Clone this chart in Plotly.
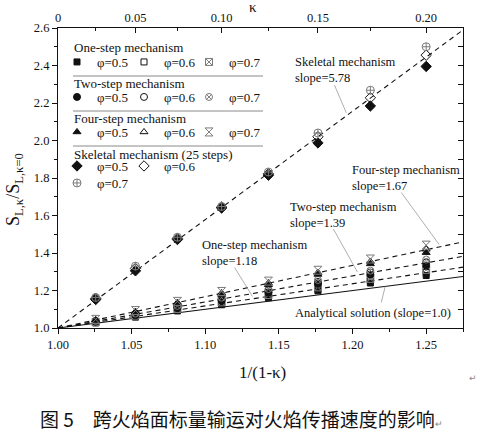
import plotly.graph_objects as go

# ---------------- data ----------------
x_pts = [1.0256, 1.0526, 1.0811, 1.1111, 1.1429, 1.1765, 1.2121, 1.25]

one_05 = [1.027, 1.058, 1.091, 1.124, 1.161, 1.198, 1.240, 1.280]
one_06 = [1.030, 1.062, 1.096, 1.130, 1.168, 1.207, 1.251, 1.296]
one_07 = [1.032, 1.066, 1.101, 1.137, 1.176, 1.217, 1.262, 1.310]
two_05 = [1.034, 1.069, 1.107, 1.147, 1.190, 1.236, 1.285, 1.333]
two_06 = [1.036, 1.073, 1.113, 1.155, 1.200, 1.246, 1.296, 1.350]
two_07 = [1.038, 1.077, 1.118, 1.162, 1.208, 1.256, 1.306, 1.365]
four_05 = [1.041, 1.084, 1.130, 1.179, 1.231, 1.286, 1.342, 1.402]
four_06 = [1.043, 1.088, 1.136, 1.187, 1.240, 1.296, 1.355, 1.420]
four_07 = [1.046, 1.093, 1.142, 1.195, 1.250, 1.308, 1.368, 1.442]
skel_05 = [1.152, 1.305, 1.472, 1.640, 1.815, 1.987, 2.184, 2.395]
skel_06 = [1.158, 1.318, 1.478, 1.645, 1.822, 2.020, 2.228, 2.455]
skel_07 = [1.163, 1.330, 1.484, 1.648, 1.832, 2.040, 2.268, 2.500]

# fitted lines (end points)
line_x = [1.0, 1.275]
line_analytic = [1.0, 1.275]
line_one = [1.0, 1.3245]
line_two = [1.0, 1.3823]
line_four = [1.0, 1.4593]
line_skel = [1.0, 2.5895]

kappa_ticks = [1.0, 1.0526, 1.1111, 1.1765, 1.25]
kappa_labels = ["0", "0.05", "0.10", "0.15", "0.20"]
kappa_minor = [1.0256, 1.0811, 1.1429, 1.2121]

phi_labels = ["φ=0.5", "φ=0.6", "φ=0.7"]
group_titles = ["One-step mechanism", "Two-step mechanism", "Four-step mechanism",
                "Skeletal mechanism (25 steps)"]

SERIF = "Liberation Serif"
GRAY = "#7a7a7a"
BLK = "#111111"

def py(p):   # pixel row -> paper y (plot area 28..328)
    return (328 - p) / 300

def px(p):   # pixel col -> paper x (plot area 58..463)
    return (p - 58) / 405

fig = go.Figure()

# lines
for ys, dash in [(line_analytic, "solid"), (line_one, "5px,4px"), (line_two, "5px,4px"),
                 (line_four, "5px,4px"), (line_skel, "5px,4px")]:
    fig.add_trace(go.Scatter(x=line_x, y=ys, mode="lines", showlegend=False,
                             line=dict(color=BLK, width=1.1, dash=dash), hoverinfo="skip"))

groups = [
    ([one_05, one_06, one_07],
     [("square", BLK, 6), ("square-open", BLK, 6), ("square-x-open", GRAY, 7)]),
    ([two_05, two_06, two_07],
     [("circle", BLK, 7), ("circle-open", BLK, 7), ("circle-x-open", GRAY, 7)]),
    ([four_05, four_06, four_07],
     [("triangle-up", BLK, 7), ("triangle-up-open", BLK, 7), ("hourglass-open", GRAY, 8)]),
    ([skel_05, skel_06, skel_07],
     [("diamond", BLK, 8), ("diamond-open", BLK, 8), ("circle-cross-open", GRAY, 8)]),
]

# legend entry anchor (marker centre in pixels) for each group / phi
row_tops = [47, 82, 117, 151]
col_marks = [78, 145, 210]

leg_common = dict(orientation="v", xanchor="left", yanchor="top", bgcolor="rgba(0,0,0,0)",
                  font=dict(family=SERIF, size=13, color=BLK), itemsizing="trace",
                  borderwidth=0)
legend_layout = {}
k = 0
for g, (series, styles) in enumerate(groups):
    for i, (ys, (sym, col, sz)) in enumerate(zip(series, styles)):
        k += 1
        lname = "legend" if k == 1 else f"legend{k}"
        if g == 3 and i == 2:
            mx, top = col_marks[0], 168
        else:
            mx, top = col_marks[i], row_tops[g]
        legend_layout[lname] = dict(**leg_common, x=px(mx - 21), y=py(top))
        fig.add_trace(go.Scatter(
            x=x_pts, y=ys, mode="markers", name=phi_labels[i], legend=lname,
            marker=dict(symbol=sym, color=col, size=sz, line=dict(color=col, width=1)),
        ))

# axes
fig.update_layout(
    width=480, height=433,
    margin=dict(l=58, r=17, t=28, b=105),
    paper_bgcolor="white", plot_bgcolor="white",
    font=dict(family=SERIF, size=12.5, color=BLK),
    xaxis=dict(range=[1.0, 1.275], showline=True, linecolor=BLK, linewidth=1.2,
               ticks="outside", ticklen=5, tickcolor=BLK, dtick=0.05, tick0=1.0,
               tickformat=".2f", showgrid=False, zeroline=False,
               minor=dict(ticks="outside", ticklen=3, dtick=0.025, tickcolor=BLK),
               tickfont=dict(size=12.5)),
    xaxis2=dict(range=[1.0, 1.275], overlaying="x", side="top", showline=True,
                linecolor=BLK, linewidth=1.2, ticks="inside", ticklen=5, tickcolor=BLK,
                tickmode="array", tickvals=kappa_ticks, ticktext=kappa_labels,
                minor=dict(ticks="inside", ticklen=3, tickvals=kappa_minor, tickcolor=BLK),
                showgrid=False, zeroline=False, tickfont=dict(size=12.5)),
    yaxis=dict(range=[1.0, 2.6], showline=True, linecolor=BLK, linewidth=1.2,
               ticks="outside", ticklen=5, tickcolor=BLK, dtick=0.2, tick0=1.0,
               tickformat=".1f", showgrid=False, zeroline=False,
               minor=dict(ticks="outside", ticklen=3, dtick=0.1, tickcolor=BLK),
               tickfont=dict(size=12.5)),
    yaxis2=dict(range=[1.0, 2.6], overlaying="y", side="right", showline=True,
                linecolor=BLK, linewidth=1.2, ticks="inside", ticklen=5, tickcolor=BLK,
                dtick=0.2, tick0=1.0, showticklabels=False, showgrid=False, zeroline=False,
                minor=dict(ticks="inside", ticklen=5, dtick=0.1, tickcolor=BLK)),
    **legend_layout,
)
# invisible trace so the overlay axes render
fig.add_trace(go.Scatter(x=[1.0], y=[1.0], xaxis="x2", yaxis="y2", mode="markers",
                         marker=dict(size=1, color="rgba(0,0,0,0)"), showlegend=False,
                         hoverinfo="skip"))

# group titles of the legend
for t, row in zip(group_titles, [47.5, 83, 118, 154]):
    fig.add_annotation(text=t, xref="paper", yref="paper", x=px(72), y=py(row),
                       xanchor="left", yanchor="middle", showarrow=False,
                       font=dict(family=SERIF, size=13, color=BLK))

# separator lines in legend
for row in [76, 111, 146]:
    fig.add_shape(type="line", xref="paper", yref="paper", x0=px(73), x1=px(263),
                  y0=py(row), y1=py(row), line=dict(color="#8a8a8a", width=1))

# annotations
ann_font = dict(family=SERIF, size=12.5, color=BLK)
notes = [
    ("Skeletal mechanism<br>slope=5.78", 293, 53),
    ("Four-step mechanism<br>slope=1.67", 350, 161),
    ("Two-step mechanism<br>slope=1.39", 288, 198),
    ("One-step mechanism<br>slope=1.18", 200, 236),
]
for txt, cx, cy in notes:
    fig.add_annotation(text=txt, xref="paper", yref="paper", x=px(cx), y=py(cy),
                       xanchor="left", yanchor="top", align="left", showarrow=False,
                       font=ann_font)
fig.add_annotation(text="Analytical solution (slope=1.0)", xref="paper", yref="paper",
                   x=px(373), y=py(313), xanchor="center", yanchor="middle",
                   showarrow=False, font=ann_font)

leaders = [
    (1.1877, 2.296, 1.1958, 2.147),
    (1.2331, 1.7227, 1.2588, 1.4453),
    (1.1870, 1.5280, 1.2033, 1.2987),
    (1.1199, 1.3227, 1.1321, 1.1680),
    (1.2222, 1.2220, 1.2195, 1.1360),
]
for x0, y0, x1, y1 in leaders:
    fig.add_shape(type="line", xref="x", yref="y", x0=x0, y0=y0, x1=x1, y1=y1,
                  line=dict(color="#9a9a9a", width=0.8))

# axis titles
fig.add_annotation(text="S<sub>L,κ</sub>/S<sub>L,κ=0</sub>", xref="paper", yref="paper",
                   x=px(14), y=py(190), textangle=-90, showarrow=False,
                   xanchor="center", yanchor="middle", font=dict(family=SERIF, size=18, color=BLK))
fig.add_annotation(text="1/(1-κ)", xref="paper", yref="paper", x=px(262), y=py(372),
                   showarrow=False, xanchor="center", yanchor="middle",
                   font=dict(family=SERIF, size=17, color=BLK))
fig.add_annotation(text="κ", xref="paper", yref="paper", x=px(253), y=py(7),
                   showarrow=False, xanchor="center", yanchor="middle",
                   font=dict(family=SERIF, size=15, color=BLK))
fig.add_annotation(text="↵", xref="paper", yref="paper", x=px(473), y=py(378),
                   showarrow=False, xanchor="center", yanchor="middle",
                   font=dict(family="DejaVu Sans", size=9, color="#888888"))
# caption
fig.add_annotation(text="图 5　跨火焰面标量输运对火焰传播速度的影响<span style='font-size:9px;color:#888'>↵</span>",
                   xref="paper", yref="paper", x=px(38), y=py(419),
                   showarrow=False, xanchor="left", yanchor="middle",
                   font=dict(family="Noto Sans CJK SC", size=19, color=BLK))

fig.write_html("out.html", config={"displayModeBar": False},
               post_script="document.body.style.margin='0';document.body.style.overflow='hidden';")
